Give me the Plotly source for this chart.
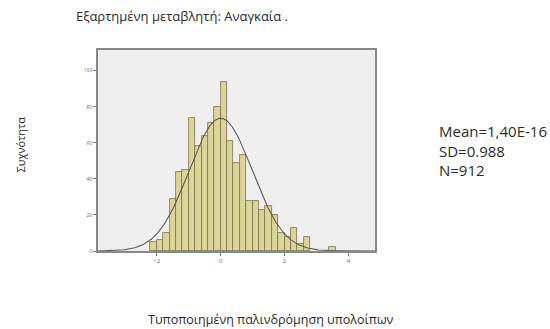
import numpy as np
import plotly.graph_objects as go

# Histogram of standardized regression residuals (bin width 0.2)
bin_left = [-2.2, -2.0, -1.8, -1.6, -1.4, -1.2, -1.0, -0.8, -0.6, -0.4, -0.2,
            0.0, 0.2, 0.4, 0.6, 0.8, 1.0, 1.2, 1.4, 1.6, 1.8, 2.0, 2.2, 2.4,
            2.6, 3.4]
counts = [5, 6, 10, 29, 44, 45, 74, 58, 64, 71, 80,
          94, 61, 49, 53, 28, 28, 23, 25, 20, 10, 8, 13, 4,
          8, 2]
bin_width = 0.2

# Summary statistics shown beside the chart
mean_val = 1.40e-16
sd_val = 0.988
n_val = 912

x_ticks = [-2, 0, 2, 4]
y_ticks = [0, 20, 40, 60, 80, 100]

centers = [b + bin_width / 2 for b in bin_left]

# Fitted normal curve scaled to counts per bin
xs = np.linspace(-3.84, 4.83, 400)
ys = n_val * bin_width / (sd_val * np.sqrt(2 * np.pi)) * np.exp(-0.5 * ((xs - mean_val) / sd_val) ** 2)

fig = go.Figure()
fig.add_trace(go.Bar(
    x=centers, y=counts, width=bin_width,
    marker=dict(color="#dcd598", line=dict(color="#77734a", width=0.8)),
    showlegend=False, hoverinfo="skip",
))
fig.add_trace(go.Scatter(
    x=xs, y=ys, mode="lines",
    line=dict(color="#5a5a5a", width=1.1),
    showlegend=False, hoverinfo="skip",
))

fig.update_layout(
    width=550, height=329,
    margin=dict(l=98, r=175, t=50, b=78),
    paper_bgcolor="white",
    plot_bgcolor="#efefef",
    bargap=0,
    font=dict(family="Open Sans, sans-serif", color="#2a2a2a"),
)
fig.update_xaxes(
    range=[-3.84, 4.83], tickvals=x_ticks, ticks="outside", ticklen=3,
    tickcolor="#777", tickfont=dict(size=6, color="#666"),
    showgrid=False, zeroline=False,
    showline=True, linecolor="#888", linewidth=1.5, mirror=True,
)
fig.update_yaxes(
    range=[0, 111.5], tickvals=y_ticks, ticks="outside", ticklen=3,
    tickcolor="#777", tickfont=dict(size=5, color="#666"),
    showgrid=False, zeroline=False,
    showline=True, linecolor="#888", linewidth=1.5, mirror=True,
)

fig.add_annotation(
    text="Εξαρτημένη μεταβλητή: Αναγκαία .", xref="paper", yref="paper",
    x=-0.085, y=1.0, yshift=34, xanchor="left", yanchor="middle",
    showarrow=False, font=dict(size=13, color="#2a2a2a"),
)
fig.add_annotation(
    text="Συχνότητα", xref="paper", yref="paper",
    x=0, xshift=-78, y=0.53, textangle=-90,
    xanchor="center", yanchor="middle",
    showarrow=False, font=dict(size=11, color="#2a2a2a"),
)
fig.add_annotation(
    text="Τυποποιημένη παλινδρόμηση υπολοίπων", xref="paper", yref="paper",
    x=0.625, y=0, yshift=-68, xanchor="center", yanchor="middle",
    showarrow=False, font=dict(size=12.5, color="#2a2a2a"),
)
stats_text = "Mean=1,40E-16<br>SD={:.3f}<br>N={}".format(sd_val, n_val)
fig.add_annotation(
    text=stats_text, xref="paper", yref="paper",
    x=1.0, xshift=62, y=0.5, xanchor="left", yanchor="middle", align="left",
    showarrow=False, font=dict(size=15, color="#2a2a2a"),
)

fig.write_html("out.html")
